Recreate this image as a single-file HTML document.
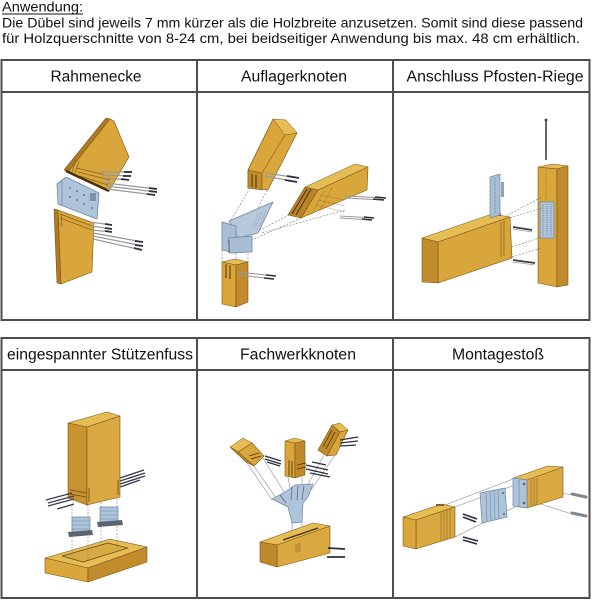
<!DOCTYPE html>
<html><head><meta charset="utf-8"><style>
html,body{margin:0;padding:0;background:#fff;}
svg{display:block;}
</style></head><body>
<svg width="600" height="600" viewBox="0 0 600 600" xmlns="http://www.w3.org/2000/svg">
<rect width="600" height="600" fill="#fff"/>
<g font-family="'Liberation Sans', Arial, sans-serif" fill="#111">
<text x="2" y="11.5" font-size="14" textLength="81" lengthAdjust="spacingAndGlyphs">Anwendung:</text>
<text x="2" y="27.5" font-size="14" textLength="581" lengthAdjust="spacingAndGlyphs">Die Dübel sind jeweils 7 mm kürzer als die Holzbreite anzusetzen. Somit sind diese passend</text>
<text x="2" y="43" font-size="14" textLength="578" lengthAdjust="spacingAndGlyphs">für Holzquerschnitte von 8-24 cm, bei beidseitiger Anwendung bis max. 48 cm erhältlich.</text>
<text x="96" y="81.5" font-size="15.5" text-anchor="middle" textLength="91" lengthAdjust="spacingAndGlyphs">Rahmenecke</text>
<text x="294" y="81.5" font-size="15.5" text-anchor="middle" textLength="106" lengthAdjust="spacingAndGlyphs">Auflagerknoten</text>
<text x="495" y="81.5" font-size="15.5" text-anchor="middle" textLength="177" lengthAdjust="spacingAndGlyphs">Anschluss Pfosten-Riege</text>
<text x="100" y="359.5" font-size="15.5" text-anchor="middle" textLength="186" lengthAdjust="spacingAndGlyphs">eingespannter Stützenfuss</text>
<text x="298" y="359.5" font-size="15.5" text-anchor="middle" textLength="116" lengthAdjust="spacingAndGlyphs">Fachwerkknoten</text>
<text x="498" y="359.5" font-size="15.5" text-anchor="middle" textLength="92" lengthAdjust="spacingAndGlyphs">Montagestoß</text>
</g>
<line x1="2" y1="14" x2="83" y2="14" stroke="#111" stroke-width="1"/>

<!-- tables -->
<g stroke="#4d4d4d" stroke-width="2" fill="none">
<rect x="1.5" y="60" width="588" height="260"/>
<line x1="1" y1="92" x2="590" y2="92"/>
<line x1="197" y1="60" x2="197" y2="320"/>
<line x1="393" y1="60" x2="393" y2="320"/>
<rect x="1.5" y="338" width="588" height="260"/>
<line x1="1" y1="370" x2="590" y2="370"/>
<line x1="197" y1="338" x2="197" y2="598"/>
<line x1="393" y1="338" x2="393" y2="598"/>
</g>

<!-- ============ Cell 1: Rahmenecke ============ -->
<g stroke-linejoin="round">
<polygon points="64,170 106,118 110,119 68,172" fill="#b07a22" stroke="#7a5515" stroke-width="0.6"/>
<polygon points="68,172 110,119 114,121 129,157 109,191" fill="#d9a63c" stroke="#7a5515" stroke-width="0.6"/>
<line x1="66" y1="171" x2="109" y2="191" stroke="#4a3008" stroke-width="2.5"/>
<g stroke="#8a6020" stroke-width="0.7">
<line x1="76" y1="168" x2="110" y2="176"/><line x1="78" y1="172" x2="110" y2="180"/><line x1="80" y1="176" x2="108" y2="185"/>
<line x1="72" y1="172" x2="76" y2="160"/><line x1="75" y1="173" x2="79" y2="161"/>
</g>
<!-- plate -->
<polygon points="57,184 66,177 99,193 97,219 89,216 58,204" fill="#aec4da" stroke="#6f86a0" stroke-width="0.8"/>
<line x1="62" y1="181" x2="62" y2="206" stroke="#6f86a0" stroke-width="0.8"/>
<g fill="#4d5f75"><circle cx="70" cy="188" r="0.9"/><circle cx="77" cy="191" r="0.9"/><circle cx="84" cy="195" r="0.9"/><circle cx="70" cy="197" r="0.9"/><circle cx="77" cy="200" r="0.9"/><circle cx="84" cy="204" r="0.9"/><circle cx="92" cy="208" r="0.9"/></g>
<rect x="90" y="193" width="6" height="8" fill="#7d93ad"/>
<!-- lower block -->
<polygon points="54,209 58,210 61,284 57,283" fill="#b07a22" stroke="#7a5515" stroke-width="0.6"/>
<polygon points="58,210 94,223 92,272 61,284" fill="#d9a63c" stroke="#7a5515" stroke-width="0.6"/>
<g stroke="#8a6020" stroke-width="0.7">
<line x1="60" y1="214" x2="92" y2="226"/><line x1="60" y1="218" x2="92" y2="230"/>
<line x1="58" y1="212" x2="59" y2="226"/><line x1="61" y1="213" x2="62" y2="227"/>
</g>
<!-- dowels -->
<g stroke="#9a9a9a" stroke-width="1.3">
<line x1="100" y1="172" x2="132" y2="172"/><line x1="102" y1="175" x2="131" y2="176"/><line x1="104" y1="178" x2="129" y2="180"/>
<line x1="105" y1="183" x2="157" y2="189"/><line x1="106" y1="186" x2="157" y2="192"/><line x1="107" y1="189" x2="155" y2="195"/>
<line x1="90" y1="222" x2="112" y2="225"/><line x1="91" y1="226" x2="112" y2="229"/><line x1="92" y1="230" x2="112" y2="232"/>
<line x1="93" y1="233" x2="143" y2="242"/><line x1="93" y1="236" x2="143" y2="246"/><line x1="93" y1="239" x2="142" y2="250"/>
</g>
<g stroke="#2b2f3a" stroke-width="1.8">
<line x1="124" y1="172" x2="132" y2="172"/><line x1="123" y1="176" x2="131" y2="176"/><line x1="121" y1="179" x2="129" y2="180"/>
<line x1="149" y1="188" x2="157" y2="189"/><line x1="149" y1="191" x2="157" y2="192"/><line x1="147" y1="194" x2="155" y2="195"/>
<line x1="105" y1="224" x2="112" y2="225"/><line x1="105" y1="228" x2="112" y2="229"/><line x1="105" y1="231" x2="112" y2="232"/>
<line x1="135" y1="241" x2="143" y2="242"/><line x1="135" y1="245" x2="143" y2="246"/><line x1="134" y1="248" x2="142" y2="250"/>
</g>
</g>

<!-- ============ Cell 2: Auflagerknoten ============ -->
<g stroke-linejoin="round">
<polygon points="248,170 273,119 286,121 297,133 268,190 248,188" fill="#d9a63c" stroke="#7a5515" stroke-width="0.6"/>
<polygon points="273,119 286,120 297,133 285,135" fill="#e6bd55" stroke="#7a5515" stroke-width="0.5"/>
<polygon points="248,170 262,173 262,190 248,188" fill="#c28b2c" stroke="#7a5515" stroke-width="0.6"/>
<line x1="262" y1="173" x2="285" y2="135" stroke="#8a6020" stroke-width="0.7"/>
<line x1="248" y1="170" x2="273" y2="119" stroke="#8a6020" stroke-width="0.7"/>
<g stroke="#4a3008" stroke-width="1"><line x1="252" y1="174" x2="252" y2="187"/><line x1="256" y1="175" x2="256" y2="188"/></g>
<g stroke="#9a9a9a" stroke-width="1.2"><line x1="265" y1="173" x2="299" y2="178"/><line x1="265" y1="176" x2="297" y2="182"/></g>
<g stroke="#2b2f3a" stroke-width="1.8"><line x1="287" y1="176" x2="299" y2="178"/><line x1="285" y1="180" x2="297" y2="182"/></g>
<polygon points="305,187 355,164 368,167 318,190" fill="#e6bd55" stroke="#7a5515" stroke-width="0.5"/>
<polygon points="318,190 368,167 367,190 301,218" fill="#d9a63c" stroke="#7a5515" stroke-width="0.6"/>
<polygon points="288,215 305,187 318,190 301,218" fill="#b98426" stroke="#7a5515" stroke-width="0.6"/>
<g stroke="#4a3008" stroke-width="1"><line x1="292" y1="214" x2="307" y2="189"/><line x1="296" y1="215" x2="311" y2="189"/></g>
<g stroke="#8a6020" stroke-width="0.6" stroke-dasharray="1 1"><line x1="320" y1="195" x2="345" y2="200"/><line x1="318" y1="200" x2="345" y2="206"/><line x1="316" y1="205" x2="345" y2="212"/><line x1="325" y1="191" x2="312" y2="212"/><line x1="332" y1="188" x2="320" y2="210"/></g>
<g stroke="#9a9a9a" stroke-width="1.1"><line x1="345" y1="196" x2="386" y2="198"/><line x1="345" y1="198" x2="384" y2="200"/><line x1="340" y1="216" x2="374" y2="218"/><line x1="340" y1="218" x2="372" y2="220"/></g>
<g stroke="#2b2f3a" stroke-width="1.6"><line x1="375" y1="197" x2="386" y2="198"/><line x1="373" y1="199" x2="384" y2="200"/><line x1="364" y1="217" x2="374" y2="218"/><line x1="362" y1="219" x2="372" y2="220"/></g>
<g stroke="#7a7a7a" stroke-width="0.6" stroke-dasharray="2 1.5" fill="none">
<line x1="250" y1="188" x2="230" y2="222"/><line x1="267" y1="190" x2="252" y2="220"/>
<line x1="289" y1="215" x2="258" y2="231"/><line x1="301" y1="218" x2="252" y2="240"/><line x1="345" y1="210" x2="262" y2="233"/>
<line x1="222" y1="250" x2="222" y2="262"/><line x1="236" y1="253" x2="236" y2="265"/><line x1="248" y1="250" x2="248" y2="262"/>
</g>
<polygon points="229,221 273,202 258,233 238,238" fill="#b6c8dc" stroke="#6f86a0" stroke-width="0.8"/>
<g stroke="#6f86a0" stroke-width="0.5" stroke-dasharray="1 1"><line x1="262" y1="212" x2="255" y2="228"/><line x1="266" y1="210" x2="259" y2="227"/><line x1="258" y1="214" x2="252" y2="229"/></g>
<polygon points="222,222 236,226 236,253 222,250" fill="#a9bdd3" stroke="#6f86a0" stroke-width="0.8"/>
<polygon points="228,238 252,236 252,252 230,253" fill="#a9bdd3" stroke="#6f86a0" stroke-width="0.8"/>
<line x1="229" y1="240" x2="229" y2="253" stroke="#4d5f75" stroke-width="0.8"/>
<polygon points="222,262 235,259 248,262 236,265" fill="#e6bd55" stroke="#7a5515" stroke-width="0.5"/>
<polygon points="222,262 236,265 236,307 222,304" fill="#d9a63c" stroke="#7a5515" stroke-width="0.6"/>
<polygon points="236,265 248,262 248,302 236,307" fill="#c28b2c" stroke="#7a5515" stroke-width="0.6"/>
<g stroke="#4a3008" stroke-width="1"><line x1="226" y1="264" x2="226" y2="278"/><line x1="230" y1="265" x2="230" y2="279"/></g>
<g stroke="#9a9a9a" stroke-width="1.1"><line x1="238" y1="272" x2="276" y2="276"/><line x1="238" y1="275" x2="274" y2="279"/></g>
<g stroke="#2b2f3a" stroke-width="1.6"><line x1="266" y1="275" x2="276" y2="276"/><line x1="264" y1="278" x2="274" y2="279"/></g>
</g>

<!-- ============ Cell 3: Anschluss Pfosten-Riege ============ -->
<g stroke-linejoin="round">
<line x1="546" y1="121" x2="546" y2="160" stroke="#3a3f4a" stroke-width="1.6"/>
<circle cx="546" cy="120" r="1.4" fill="#3a3f4a"/>
<polygon points="538,167 553,164 568,166 557,169" fill="#e6bd55" stroke="#7a5515" stroke-width="0.5"/>
<polygon points="538,167 557,169 557,287 538,283" fill="#d9a63c" stroke="#7a5515" stroke-width="0.6"/>
<polygon points="557,169 568,166 568,285 557,287" fill="#c28b2c" stroke="#7a5515" stroke-width="0.6"/>
<line x1="546" y1="168" x2="546" y2="200" stroke="#8a6020" stroke-width="0.5" stroke-dasharray="1.5 1"/>
<rect x="540" y="202" width="14" height="36" fill="#aec4da" stroke="#6f86a0" stroke-width="0.7"/>
<g stroke="#4d5f75" stroke-width="0.7" stroke-dasharray="1 1.2"><line x1="543" y1="204" x2="543" y2="236"/><line x1="547" y1="204" x2="547" y2="236"/><line x1="551" y1="204" x2="551" y2="236"/></g>
<g stroke="#7a7a7a" stroke-width="0.6" stroke-dasharray="2 1.5"><line x1="502" y1="218" x2="542" y2="197"/><line x1="510" y1="218" x2="542" y2="208"/><line x1="512" y1="247" x2="542" y2="237"/><line x1="512" y1="257" x2="542" y2="248"/></g>
<polygon points="422,238 492,214 510,217 438,242" fill="#e6bd55" stroke="#7a5515" stroke-width="0.5"/>
<polygon points="438,242 510,217 512,258 438,283" fill="#d9a63c" stroke="#7a5515" stroke-width="0.6"/>
<polygon points="422,238 438,242 438,283 422,282" fill="#c28b2c" stroke="#7a5515" stroke-width="0.6"/>
<g stroke="#8a6020" stroke-width="0.8"><line x1="501" y1="222" x2="501" y2="257"/><line x1="504" y1="221" x2="504" y2="256"/></g>
<rect x="492" y="213" width="9" height="3" fill="#8a6020"/>
<polygon points="490,177 500,174 500,215 490,218" fill="#a9bdd3" stroke="#6f86a0" stroke-width="0.7"/>
<rect x="501" y="182" width="3" height="15" fill="#8ea3bb"/>
<g stroke="#4d5f75" stroke-width="0.6" stroke-dasharray="1 1"><line x1="495" y1="178" x2="495" y2="214"/></g>
<g stroke="#3a3f4a" stroke-width="1.8"><line x1="513" y1="227" x2="532" y2="230"/><line x1="513" y1="260" x2="535" y2="263"/></g>
<g stroke="#9a9a9a" stroke-width="0.8"><line x1="513" y1="229" x2="532" y2="232"/><line x1="513" y1="262" x2="535" y2="265"/></g>
</g>

<!-- ============ Cell 4: eingespannter Stützenfuss ============ -->
<g stroke-linejoin="round">
<polygon points="45,558 110,539 147,547 88,568" fill="#e6bd55" stroke="#7a5515" stroke-width="0.6"/>
<polygon points="62,556 108,543 128,548 83,562" fill="#d6aa45" stroke="#6a4a10" stroke-width="0.8"/>
<polygon points="45,558 88,568 88,582 45,573" fill="#d9a63c" stroke="#7a5515" stroke-width="0.6"/>
<polygon points="88,568 147,547 147,562 88,582" fill="#c28b2c" stroke="#7a5515" stroke-width="0.6"/>
<g stroke="#7a7a7a" stroke-width="0.6" stroke-dasharray="2 1.5"><line x1="72" y1="505" x2="72" y2="557"/><line x1="88" y1="505" x2="88" y2="560"/><line x1="101" y1="502" x2="101" y2="545"/><line x1="117" y1="498" x2="117" y2="548"/></g>
<rect x="72" y="517" width="18" height="15" fill="#aec4da" stroke="#6f86a0" stroke-width="0.7"/>
<g stroke="#6f86a0" stroke-width="0.6"><line x1="72" y1="521" x2="90" y2="521"/><line x1="72" y1="525" x2="90" y2="525"/><line x1="72" y1="529" x2="90" y2="529"/></g>
<polygon points="68,532 92,530 93,535 69,537" fill="#5b6472"/>
<rect x="100" y="507" width="18" height="15" fill="#aec4da" stroke="#6f86a0" stroke-width="0.7"/>
<g stroke="#6f86a0" stroke-width="0.6"><line x1="100" y1="511" x2="118" y2="511"/><line x1="100" y1="515" x2="118" y2="515"/><line x1="100" y1="519" x2="118" y2="519"/></g>
<polygon points="97,522 122,520 123,525 98,527" fill="#5b6472"/>
<polygon points="68,423 107,412 120,416 87,427" fill="#e6bd55" stroke="#7a5515" stroke-width="0.6"/>
<polygon points="68,423 87,427 87,505 68,498" fill="#c8922e" stroke="#7a5515" stroke-width="0.6"/>
<polygon points="87,427 120,416 120,497 87,505" fill="#d9a840" stroke="#7a5515" stroke-width="0.6"/>
<g stroke="#6a4a10" stroke-width="0.8"><line x1="70" y1="490" x2="86" y2="493"/><line x1="70" y1="494" x2="86" y2="497"/><line x1="89" y1="488" x2="89" y2="502"/><line x1="118" y1="480" x2="118" y2="495"/></g>
<g stroke="#3a3f4a" stroke-width="1.4">
<line x1="46" y1="500" x2="72" y2="493"/><line x1="48" y1="503" x2="74" y2="496"/><line x1="48" y1="506" x2="74" y2="499"/><line x1="57" y1="509" x2="74" y2="504"/>
<line x1="120" y1="478" x2="144" y2="470"/><line x1="120" y1="481" x2="145" y2="473"/><line x1="120" y1="484" x2="145" y2="476"/><line x1="120" y1="487" x2="140" y2="480"/>
</g>
</g>

<!-- ============ Cell 5: Fachwerkknoten ============ -->
<g stroke-linejoin="round">
<g stroke="#8a8a8a" stroke-width="0.6">
<line x1="254" y1="466" x2="276" y2="498"/><line x1="263" y1="458" x2="284" y2="492"/><line x1="245" y1="460" x2="272" y2="500"/>
<line x1="288" y1="477" x2="290" y2="488"/><line x1="302" y1="477" x2="302" y2="486"/>
<line x1="324" y1="455" x2="306" y2="488"/><line x1="335" y1="455" x2="311" y2="490"/>
<line x1="292" y1="523" x2="292" y2="535"/><line x1="302" y1="522" x2="302" y2="532"/>
</g>
<polygon points="260,542 313,523 330,526 277,545" fill="#e6bd55" stroke="#7a5515" stroke-width="0.6"/>
<line x1="283" y1="540" x2="318" y2="528" stroke="#3a2a08" stroke-width="1.3"/>
<polygon points="277,545 330,526 330,553 277,567" fill="#d9a840" stroke="#7a5515" stroke-width="0.6"/>
<polygon points="260,542 277,545 277,567 260,562" fill="#c08a2a" stroke="#7a5515" stroke-width="0.6"/>
<g stroke="#8a6020" stroke-width="0.6"><line x1="296" y1="544" x2="296" y2="553"/><line x1="298" y1="543" x2="298" y2="552"/><line x1="300" y1="543" x2="300" y2="552"/></g>
<g stroke="#2b2f3a" stroke-width="1.8"><line x1="328" y1="548" x2="345" y2="549"/><line x1="327" y1="557" x2="345" y2="557"/></g>
<polygon points="272,499 288,490 295,485 313,484 308,497 303,503 302,522 292,523 288,507" fill="#aec4da" stroke="#6f86a0" stroke-width="0.7"/>
<g stroke="#4d5f75" stroke-width="0.7"><line x1="292" y1="487" x2="291" y2="500"/><line x1="298" y1="486" x2="297" y2="500"/><line x1="304" y1="486" x2="302" y2="500"/><line x1="280" y1="495" x2="286" y2="503"/></g>
<polygon points="230,447 243,438 252,443 238,452" fill="#e6bd55" stroke="#7a5515" stroke-width="0.5"/>
<polygon points="238,452 252,443 264,456 254,466" fill="#d9a63c" stroke="#7a5515" stroke-width="0.6"/>
<polygon points="230,447 238,452 254,466 246,462" fill="#c08a2a" stroke="#7a5515" stroke-width="0.6"/>
<g stroke="#4a3008" stroke-width="0.8"><line x1="249" y1="456" x2="259" y2="453"/><line x1="251" y1="459" x2="261" y2="456"/></g>
<g stroke="#2b2f3a" stroke-width="1.3"><line x1="265" y1="456" x2="281" y2="461"/><line x1="265" y1="459" x2="281" y2="464"/><line x1="267" y1="462" x2="280" y2="466"/></g>
<polygon points="285,441 295,438 305,441 295,443" fill="#e6bd55" stroke="#7a5515" stroke-width="0.5"/>
<polygon points="285,441 295,443 295,478 285,476" fill="#d9a63c" stroke="#7a5515" stroke-width="0.6"/>
<polygon points="295,443 305,441 305,475 295,478" fill="#c08a2a" stroke="#7a5515" stroke-width="0.6"/>
<g stroke="#4a3008" stroke-width="0.8"><line x1="289" y1="460" x2="289" y2="476"/><line x1="292" y1="461" x2="292" y2="477"/><line x1="297" y1="465" x2="306" y2="463"/><line x1="297" y1="469" x2="306" y2="467"/></g>
<g stroke="#2b2f3a" stroke-width="1.3"><line x1="306" y1="465" x2="328" y2="470"/><line x1="306" y1="469" x2="328" y2="474"/><line x1="310" y1="473" x2="330" y2="477"/><line x1="312" y1="462" x2="326" y2="465"/></g>
<polygon points="332,425 340,423 348,430 340,432" fill="#e6bd55" stroke="#7a5515" stroke-width="0.5"/>
<polygon points="318,450 332,425 340,432 327,456" fill="#c08a2a" stroke="#7a5515" stroke-width="0.6"/>
<polygon points="340,432 348,430 336,455 327,456" fill="#d9a63c" stroke="#7a5515" stroke-width="0.6"/>
<g stroke="#4a3008" stroke-width="0.8"><line x1="323" y1="447" x2="332" y2="430"/><line x1="326" y1="449" x2="335" y2="432"/></g>
<g stroke="#2b2f3a" stroke-width="1.3"><line x1="340" y1="440" x2="358" y2="437"/><line x1="340" y1="443" x2="358" y2="441"/><line x1="340" y1="446" x2="356" y2="445"/></g>
</g>

<!-- ============ Cell 6: Montagestoß ============ -->
<g stroke-linejoin="round">
<g stroke="#8a8a8a" stroke-width="0.6">
<line x1="445" y1="505" x2="513" y2="479"/><line x1="455" y1="537" x2="515" y2="507"/><line x1="452" y1="508" x2="515" y2="485"/>
<line x1="528" y1="487" x2="572" y2="495"/><line x1="528" y1="500" x2="572" y2="514"/>
</g>
<polygon points="403,517 442,504 455,507 416,520" fill="#e6bd55" stroke="#7a5515" stroke-width="0.6"/>
<polygon points="416,520 455,507 455,537 416,549" fill="#d9a840" stroke="#7a5515" stroke-width="0.6"/>
<polygon points="403,517 416,520 416,549 403,546" fill="#d9a63c" stroke="#7a5515" stroke-width="0.6"/>
<g stroke="#8a6020" stroke-width="0.6"><line x1="441" y1="512" x2="441" y2="541"/><line x1="444" y1="511" x2="444" y2="540"/><line x1="447" y1="510" x2="447" y2="539"/><line x1="450" y1="509" x2="450" y2="538"/></g>
<rect x="436" y="504" width="8" height="2" fill="#8a6020"/>
<g stroke="#2b2f3a" stroke-width="1.6"><line x1="463" y1="514" x2="477" y2="519"/><line x1="463" y1="517" x2="476" y2="522"/><line x1="463" y1="537" x2="478" y2="541"/><line x1="463" y1="540" x2="477" y2="544"/></g>
<polygon points="480,493 505,488 507,517 482,523" fill="#aec4da" stroke="#6f86a0" stroke-width="0.7"/>
<g stroke="#6f86a0" stroke-width="0.6"><line x1="486" y1="492" x2="487" y2="521"/><line x1="490" y1="491" x2="491" y2="520"/><line x1="494" y1="490" x2="495" y2="520"/><line x1="498" y1="490" x2="499" y2="519"/></g>
<circle cx="503" cy="493" r="1" fill="#4d5f75"/><circle cx="504" cy="514" r="1" fill="#4d5f75"/>
<polygon points="513,478 548,466 563,467 528,480" fill="#e6bd55" stroke="#7a5515" stroke-width="0.6"/>
<polygon points="527,480 563,467 563,497 527,508" fill="#d9a840" stroke="#7a5515" stroke-width="0.6"/>
<g stroke="#8a6020" stroke-width="0.6"><line x1="531" y1="480" x2="531" y2="507"/><line x1="534" y1="479" x2="534" y2="506"/><line x1="537" y1="478" x2="537" y2="505"/></g>
<polygon points="513,478 527,480 527,508 513,506" fill="#aec4da" stroke="#6f86a0" stroke-width="0.7"/>
<line x1="519" y1="480" x2="519" y2="507" stroke="#6f86a0" stroke-width="0.7"/>
<circle cx="524" cy="484" r="1.3" fill="#4d5f75"/><circle cx="524" cy="503" r="1.3" fill="#4d5f75"/>
<g stroke="#7f8794" stroke-width="3" stroke-linecap="round"><line x1="572" y1="494" x2="586" y2="497"/><line x1="572" y1="513" x2="586" y2="516"/></g>
</g>
</svg>
</body></html>
